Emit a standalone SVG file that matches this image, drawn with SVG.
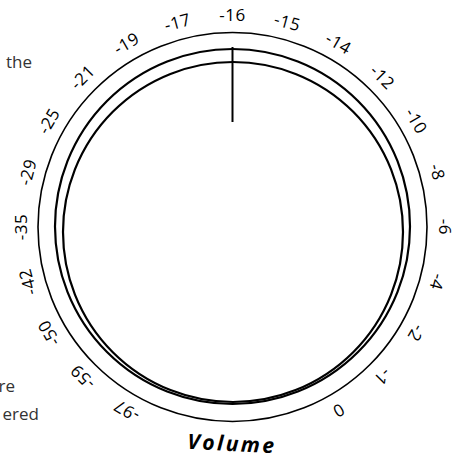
<svg xmlns="http://www.w3.org/2000/svg" width="460" height="460" viewBox="0 0 460 460">
<style>
.lbl{font-family:"Open Sans","DejaVu Sans",sans-serif;font-size:17px;fill:#000;text-anchor:middle;letter-spacing:0.6px}
.side{font-family:"Open Sans","DejaVu Sans",sans-serif;font-size:17px;fill:#333;text-anchor:end}
.ring{fill:none;stroke:#000}
</style>
<rect width="460" height="460" fill="#fff"/>
<g id="side-text">
<text class="side" x="32" y="68">the</text>
<text class="side" x="15" y="392">re</text>
<text class="side" x="39" y="420">ered</text>
</g>
<g id="dial">
<circle class="ring" cx="232.5" cy="227" r="194.5" stroke-width="1.6"/>
<circle class="ring" cx="232.5" cy="226.5" r="177.5" stroke-width="2.2"/>
<circle class="ring" cx="233" cy="232" r="170" stroke-width="2.2"/>
</g>
<g id="connectors">
<line x1="232.5" y1="47" x2="232.5" y2="122" stroke="#000" stroke-width="2"/>
</g>
<g id="labels">
<text class="lbl" x="232.5" y="21" transform="rotate(-150 232.5 227)">-97</text>
<text class="lbl" x="232.5" y="21" transform="rotate(-135 232.5 227)">-59</text>
<text class="lbl" x="232.5" y="21" transform="rotate(-120 232.5 227)">-50</text>
<text class="lbl" x="232.5" y="21" transform="rotate(-105 232.5 227)">-42</text>
<text class="lbl" x="232.5" y="21" transform="rotate(-90 232.5 227)">-35</text>
<text class="lbl" x="232.5" y="21" transform="rotate(-75 232.5 227)">-29</text>
<text class="lbl" x="232.5" y="21" transform="rotate(-60 232.5 227)">-25</text>
<text class="lbl" x="232.5" y="21" transform="rotate(-45 232.5 227)">-21</text>
<text class="lbl" x="232.5" y="21" transform="rotate(-30 232.5 227)">-19</text>
<text class="lbl" x="232.5" y="21" transform="rotate(-15 232.5 227)">-17</text>
<text class="lbl" x="232.5" y="21">-16</text>
<text class="lbl" x="232.5" y="21" transform="rotate(15 232.5 227)">-15</text>
<text class="lbl" x="232.5" y="21" transform="rotate(30 232.5 227)">-14</text>
<text class="lbl" x="232.5" y="21" transform="rotate(45 232.5 227)">-12</text>
<text class="lbl" x="232.5" y="21" transform="rotate(60 232.5 227)">-10</text>
<text class="lbl" x="232.5" y="21" transform="rotate(75 232.5 227)">-8</text>
<text class="lbl" x="232.5" y="21" transform="rotate(90 232.5 227)">-6</text>
<text class="lbl" x="232.5" y="21" transform="rotate(105 232.5 227)">-4</text>
<text class="lbl" x="232.5" y="21" transform="rotate(120 232.5 227)">-2</text>
<text class="lbl" x="232.5" y="21" transform="rotate(135 232.5 227)">-1</text>
<text class="lbl" x="232.5" y="21" transform="rotate(150 232.5 227)">0</text>
</g>
<g id="title">
<text x="232" y="451" transform="rotate(3 232 445)" font-family="'Open Sans','DejaVu Sans',sans-serif" font-size="21" font-weight="bold" font-style="italic" text-anchor="middle" letter-spacing="2.5">Volume</text>
</g>
</svg>
